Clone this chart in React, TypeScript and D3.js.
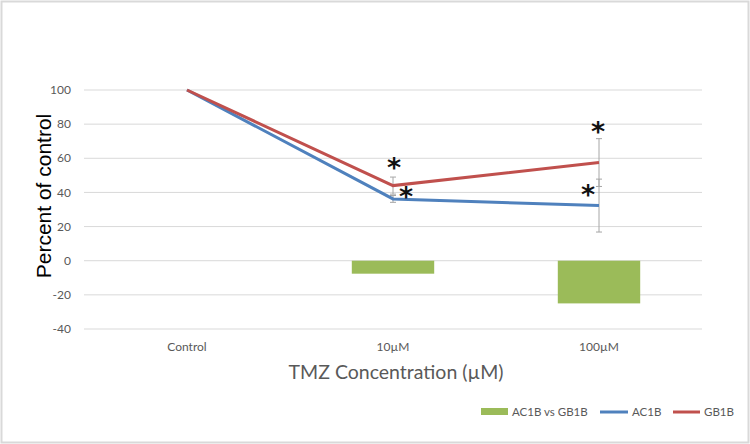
import React from "react";
import * as d3 from "d3";

const categories = ["Control", "10µM", "100µM"];
const ac1b = [100, 36.2, 32.3];
const gb1b = [100, 44, 57.5];
const ac1bErr = [0, 2, 15.5];
const gb1bErr = [0, 5, 14];
const diff = [null, -7.6, -25];
const yTicks = [100, 80, 60, 40, 20, 0, -20, -40];
// significance markers: [category, value, dx]
const stars: [string, number, number][] = [
  ["10µM", 49, 1],
  ["10µM", 32, 13],
  ["100µM", 70, -1],
  ["100µM", 33.5, -11],
];

const W = 750;
const H = 444;
const margin = { left: 84, right: 48, top: 90, bottom: 115 };
const font = "Lato, 'Open Sans', sans-serif";
const green = "#9bbb59";
const blue = "#4f81bd";
const red = "#c0504d";
const grey = "#595959";

export default function App() {
  const x = d3
    .scaleBand<string>()
    .domain(categories)
    .range([margin.left, W - margin.right]);
  const y = d3
    .scaleLinear()
    .domain([-40, 100])
    .range([H - margin.bottom, margin.top]);
  const cx = (c: string) => (x(c) as number) + x.bandwidth() / 2;
  const barW = x.bandwidth() * 0.4;

  const line = d3
    .line<number>()
    .x((_, i) => cx(categories[i]))
    .y((d) => y(d));

  const errBars = [
    ...ac1b.map((v, i) => ({ c: categories[i], v, e: ac1bErr[i] })),
    ...gb1b.map((v, i) => ({ c: categories[i], v, e: gb1bErr[i] })),
  ].filter((d) => d.e > 0);

  return (
    <svg
      width={W}
      height={H}
      style={{ position: "absolute", left: 0, top: 0, fontFamily: font }}
    >
      <rect x={0} y={0} width={W} height={H} fill="#fff" />
      <rect
        x={1.5}
        y={1.5}
        width={W - 3}
        height={H - 3}
        fill="none"
        stroke="#d9d9d9"
        strokeWidth={2}
      />
      {yTicks.map((t) => (
        <g key={t}>
          <line
            x1={margin.left}
            x2={W - margin.right}
            y1={y(t)}
            y2={y(t)}
            stroke="#d9d9d9"
            strokeWidth={1}
          />
          <text
            x={margin.left - 13}
            y={y(t)}
            dy="0.35em"
            textAnchor="end"
            fontSize={12}
            fill={grey}
          >
            {t}
          </text>
        </g>
      ))}
      {diff.map((v, i) =>
        v == null ? null : (
          <rect
            key={i}
            x={cx(categories[i]) - barW / 2}
            y={y(Math.max(0, v))}
            width={barW}
            height={Math.abs(y(v) - y(0))}
            fill={green}
          />
        )
      )}
      {errBars.map((d, i) => (
        <g key={i} stroke="#a6a6a6" strokeWidth={1}>
          <line x1={cx(d.c)} x2={cx(d.c)} y1={y(d.v + d.e)} y2={y(d.v - d.e)} />
          <line x1={cx(d.c) - 3} x2={cx(d.c) + 3} y1={y(d.v + d.e)} y2={y(d.v + d.e)} />
          <line x1={cx(d.c) - 3} x2={cx(d.c) + 3} y1={y(d.v - d.e)} y2={y(d.v - d.e)} />
        </g>
      ))}
      <path d={line(ac1b) as string} fill="none" stroke={blue} strokeWidth={3} />
      <path d={line(gb1b) as string} fill="none" stroke={red} strokeWidth={3} />
      {stars.map(([c, v, dx], i) => (
        <text
          key={i}
          x={cx(c) + dx}
          y={y(v)}
          textAnchor="middle"
          fontSize={27}
          fontWeight="bold"
          fill="#111"
          fontFamily="'DejaVu Sans', sans-serif"
        >
          *
        </text>
      ))}
      {categories.map((c) => (
        <text
          key={c}
          x={cx(c)}
          y={H - margin.bottom + 22}
          textAnchor="middle"
          fontSize={12}
          fill={grey}
        >
          {c}
        </text>
      ))}
      <text
        x={396}
        y={379}
        textAnchor="middle"
        fontSize={19.5}
        fill={grey}
      >
        TMZ Concentration (µM)
      </text>
      <text
        transform="translate(51,196) rotate(-90)"
        textAnchor="middle"
        fontSize={21}
        fill="#000"
        fontFamily="'Liberation Sans', Arial, sans-serif"
      >
        Percent of control
      </text>
      <g fontSize={11.5} fill={grey}>
        <rect x={481} y={408} width={27} height={7} fill={green} />
        <text x={512} y={412} dy="0.35em">AC1B vs GB1B</text>
        <line x1={600} x2={628} y1={412} y2={412} stroke={blue} strokeWidth={3} />
        <text x={632} y={412} dy="0.35em">AC1B</text>
        <line x1={673} x2={700} y1={412} y2={412} stroke={red} strokeWidth={3} />
        <text x={704} y={412} dy="0.35em">GB1B</text>
      </g>
    </svg>
  );
}
